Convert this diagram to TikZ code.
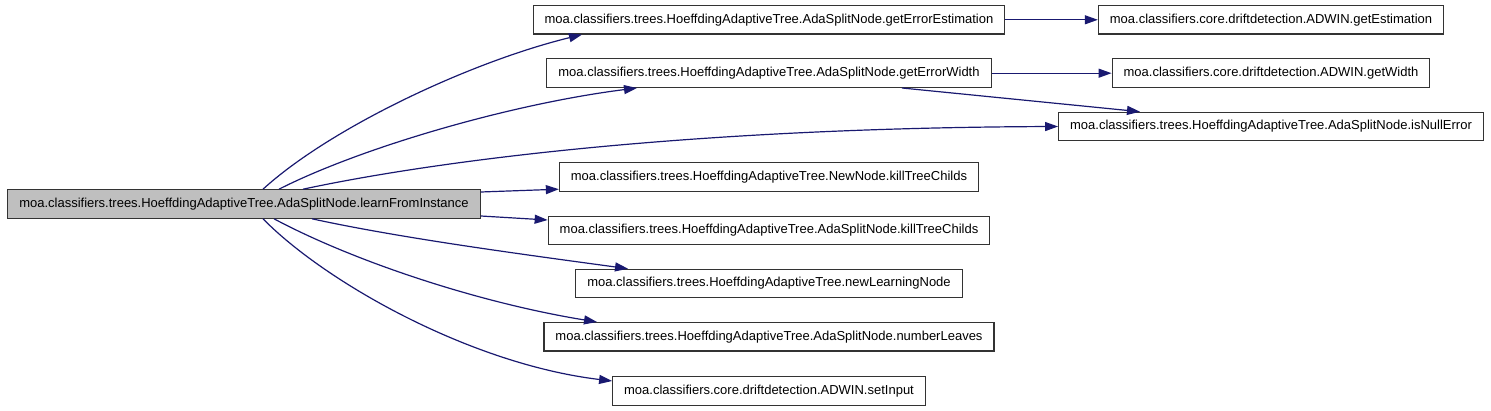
\documentclass[tikz,border=0pt]{standalone}
\usepackage{fontspec}
\usepackage{tikz}
\usetikzlibrary{calc,arrows.meta}
\newfontfamily\doxfont{Liberation Sans}
\definecolor{callblue}{HTML}{191970}
\tikzset{
  fn/.style={draw=black!80, line width=1.1pt, fill=white, inner xsep=11.5pt,
    minimum height=28.5pt, font=\doxfont\fontsize{13}{15}\selectfont},
  cur/.style={fn, fill=black!25},
  call/.style={->, callblue, line width=1.2pt, >={Triangle[length=13pt,width=9pt]}}
}
\begin{document}
\begin{tikzpicture}[x=1pt,y=-1pt]
      \useasboundingbox (0,0) rectangle (1491,411);
      \node[cur] (lfi) at (244,204) {moa.classifiers.trees.HoeffdingAdaptiveTree.AdaSplitNode.learnFromInstance};

      \node[fn] (gee) at (769,19.8) {moa.classifiers.trees.HoeffdingAdaptiveTree.AdaSplitNode.getErrorEstimation};
      \node[fn] (gew) at (769,73.2) {moa.classifiers.trees.HoeffdingAdaptiveTree.AdaSplitNode.getErrorWidth};
      \node[fn] (ine) at (1271,126.5) {moa.classifiers.trees.HoeffdingAdaptiveTree.AdaSplitNode.isNullError};
      \node[fn] (nkt) at (769,177.2) {moa.classifiers.trees.HoeffdingAdaptiveTree.NewNode.killTreeChilds};
      \node[fn] (akt) at (769,230.5) {moa.classifiers.trees.HoeffdingAdaptiveTree.AdaSplitNode.killTreeChilds};
      \node[fn] (nln) at (769,283.5) {moa.classifiers.trees.HoeffdingAdaptiveTree.newLearningNode};
      \node[fn] (nlv) at (769,336.8) {moa.classifiers.trees.HoeffdingAdaptiveTree.AdaSplitNode.numberLeaves};
      \node[fn] (sin) at (769,390.8) {moa.classifiers.core.driftdetection.ADWIN.setInput};

      \node[fn] (age) at (1271,19.8) {moa.classifiers.core.driftdetection.ADWIN.getEstimation};
      \node[fn] (agw) at (1271,73.2) {moa.classifiers.core.driftdetection.ADWIN.getWidth};

      \draw[call] ($(lfi.north)+(19,0)$) .. controls (330,128) and (470,62) .. ($(gee.south)+(-187,0)$);
      \draw[call] ($(lfi.north)+(35,0)$) .. controls (360,148) and (510,104) .. ($(gew.south)+(-132,0)$);
      \draw[call] ($(lfi.north)+(59,0)$) .. controls (430,162) and (680,128) .. (ine.west);
      \draw[call] ($(lfi.east)+(0,-12)$) -- ($(nkt.west)+(0,12)$);
      \draw[call] ($(lfi.east)+(0,12)$) -- ($(akt.west)+(0,-10.5)$);
      \draw[call] ($(lfi.south)+(68,0)$) .. controls (400,238) and (520,254) .. ($(nln.north)+(-141,0)$);
      \draw[call] ($(lfi.south)+(30,0)$) .. controls (355,262) and (480,303) .. ($(nlv.north)+(-172,0)$);
      \draw[call] ($(lfi.south)+(19,0)$) .. controls (325,282) and (470,364) .. ($(sin.west)+(0,-9.8)$);

      \draw[call] (gee) -- (age);
      \draw[call] (gew) -- (agw);
      \draw[call] ($(gew.south)+(133,0)$) -- ($(ine.north)+(-131,0)$);
    \end{tikzpicture}
\end{document}
